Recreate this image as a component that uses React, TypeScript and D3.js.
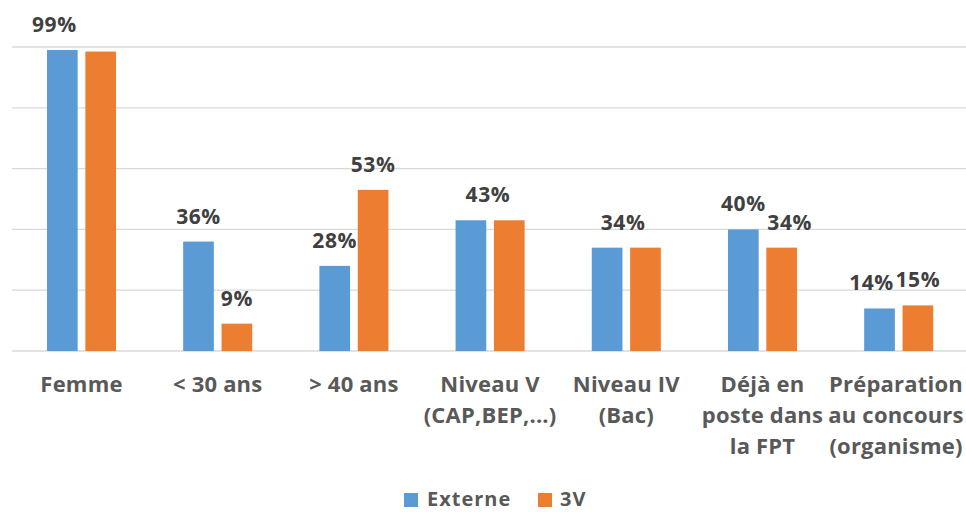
import * as d3 from "d3";

// categories (multi-line axis labels)
const categories = [
  "Femme",
  "< 30 ans",
  "> 40 ans",
  "Niveau V",
  "Niveau IV",
  "Déjà en",
  "Préparation",
];
const categoryLines = [
  ["Femme"],
  ["< 30 ans"],
  ["> 40 ans"],
  ["Niveau V", "(CAP,BEP,...)"],
  ["Niveau IV", "(Bac)"],
  ["Déjà en", "poste dans", "la FPT"],
  ["Préparation", "au concours", "(organisme)"],
];

const seriesNames = ["Externe", "3V"];
const externe = [99, 36, 28, 43, 34, 40, 14];
const troisV = [98.5, 9, 53, 43, 34, 34, 15];

// which labels are shown (Excel hid the overlapping ones)
const externeLabels = ["99%", "36%", "28%", "43%", "34%", "40%", "14%"];
const troisVLabels = [null, "9%", "53%", null, null, "34%", "15%"];

const yTicks = [0, 20, 40, 60, 80, 100];

const colors = ["#5B9BD5", "#ED7D31"];

// small label nudges, like excel moved them
const labelShift: Record<string, number> = {
  "0-0": -8,
  "3-0": 17,
  "4-0": 16,
  "5-1": 8,
  "6-0": -8,
};

export default function App() {
  const width = 966;
  const height = 512;

  const x = d3
    .scaleBand()
    .domain(categories)
    .range([13.4, 966.8])
    .paddingInner(0.493)
    .paddingOuter(0.2465);
  const xs = d3
    .scaleBand()
    .domain(seriesNames)
    .range([0, x.bandwidth()])
    .paddingInner(0.2);
  const y = d3.scaleLinear().domain([0, 100]).range([351, 47]);

  const values = [externe, troisV];
  const labels = [externeLabels, troisVLabels];
  const font = "'Open Sans', 'Segoe UI', sans-serif";

  // keep the last category label inside the picture
  const catX = (c: string) =>
    Math.min((x(c) ?? 0) + x.bandwidth() / 2, width - 70);

  return (
    <svg
      width={width}
      height={height}
      style={{ position: "absolute", left: 0, top: 0, background: "#fff" }}
    >
      {yTicks.map((t) => (
        <line
          key={t}
          x1={12}
          x2={width}
          y1={y(t)}
          y2={y(t)}
          stroke="#D9D9D9"
          strokeWidth={1.3}
        />
      ))}
      {seriesNames.map((s, si) =>
        categories.map((c, ci) => {
          const bx = (x(c) ?? 0) + (xs(s) ?? 0);
          const v = values[si][ci];
          const lab = labels[si][ci];
          const dx = labelShift[`${ci}-${si}`] ?? 0;
          return (
            <g key={s + c}>
              <rect
                x={bx}
                y={y(v)}
                width={xs.bandwidth()}
                height={y(0) - y(v)}
                fill={colors[si]}
              />
              {lab && (
                <text
                  x={bx + xs.bandwidth() / 2 + dx}
                  y={y(v) - 18}
                  textAnchor="middle"
                  fontFamily={font}
                  fontWeight={700}
                  fontSize={21}
                  letterSpacing={0.6}
                  fill="#404040"
                >
                  {lab}
                </text>
              )}
            </g>
          );
        })
      )}
      {categories.map((c, ci) => (
        <text
          key={c}
          x={catX(c)}
          y={392}
          textAnchor="middle"
          fontFamily={font}
          fontWeight={700}
          fontSize={22}
          letterSpacing={0.2}
          fill="#595959"
        >
          {categoryLines[ci].map((l, li) => (
            <tspan key={li} x={catX(c)} dy={li === 0 ? 0 : 31}>
              {l}
            </tspan>
          ))}
        </text>
      ))}
      <g fontFamily={font} fontWeight={700} fontSize={20} fill="#595959">
        <rect x={404} y={493} width={14} height={14} fill={colors[0]} />
        <text x={427} y={506} letterSpacing={1}>
          {seriesNames[0]}
        </text>
        <rect x={538} y={493} width={14} height={14} fill={colors[1]} />
        <text x={560} y={506} letterSpacing={1}>
          {seriesNames[1]}
        </text>
      </g>
    </svg>
  );
}
